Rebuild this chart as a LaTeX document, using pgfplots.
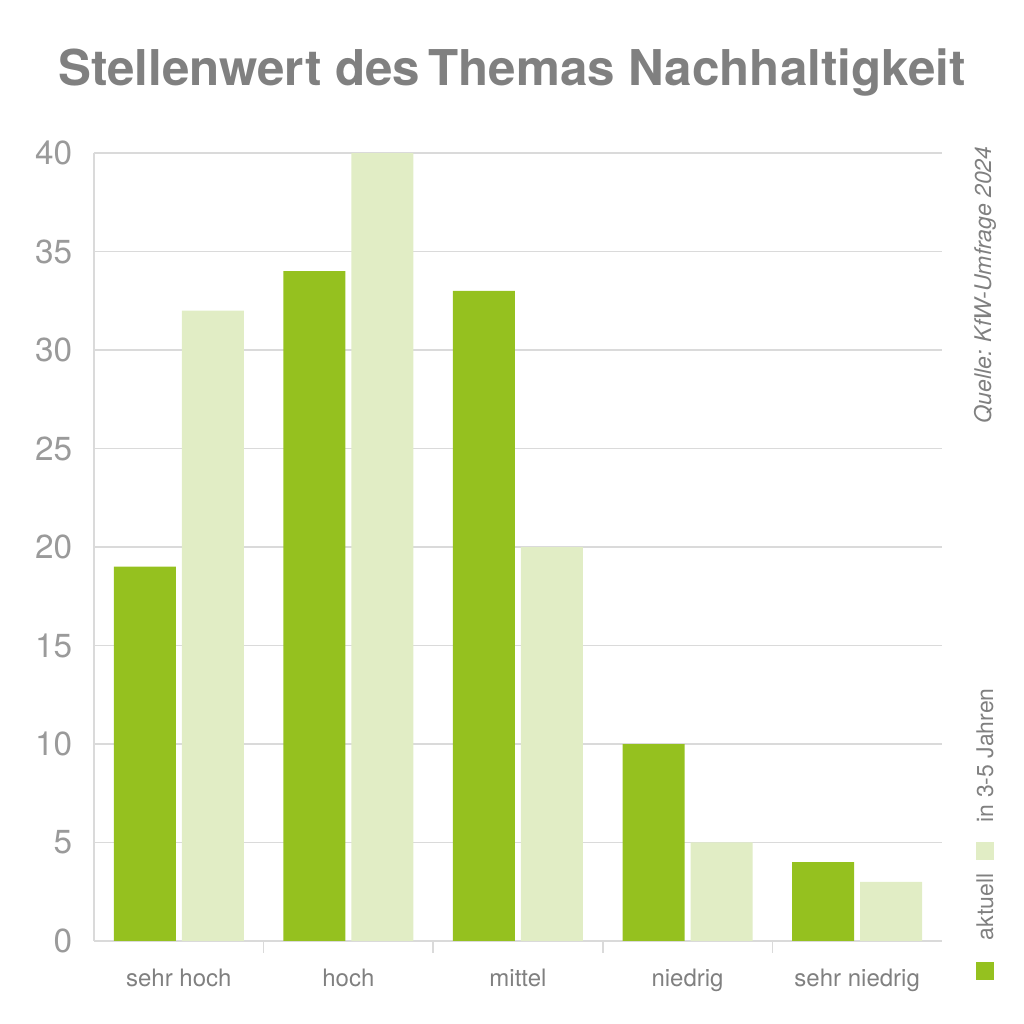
\documentclass[border=0pt]{standalone}
\usepackage{fontspec}
\setmainfont{TeX Gyre Heros}
\usepackage{pgfplots}
\pgfplotsset{compat=1.18}
\usetikzlibrary{calc}

\definecolor{kfwgreen}{HTML}{95C11F}
\definecolor{kfwlight}{HTML}{E1EDC5}
\definecolor{txtgray}{HTML}{808080}
\definecolor{ticgray}{HTML}{9A9A9A}
\definecolor{gridgray}{HTML}{DADADA}

\begin{document}
\begin{tikzpicture}
\begin{axis}[
  name=ax,
  scale only axis,
  width=254.4pt, height=236.4pt,
  ybar=1.8pt,
  bar width=18.6pt,
  xmin=-0.5, xmax=4.5,
  ymin=0, ymax=40,
  xtick=data,
  xticklabels={sehr hoch, hoch, mittel, niedrig, sehr niedrig},
  minor xtick={0.5,1.5,2.5,3.5},
  ytick={0,5,...,40},
  ymajorgrids=true,
  grid style={gridgray, line width=0.4pt},
  axis x line*=bottom,
  axis y line*=left,
  axis line style={gridgray, line width=0.5pt},
  major tick length=0pt,
  minor tick length=3.5pt,
  minor tick style={gridgray, line width=0.5pt},
  xticklabel style={font=\fontsize{7.2}{8}\selectfont, text=txtgray, yshift=-5pt},
  yticklabel style={font=\fontsize{10}{12}\selectfont, text=ticgray, xshift=-3pt},
  /pgf/number format/assume math mode=true,
  clip=false,
]
\addplot[fill=kfwgreen, draw=none] coordinates {
  (0,19) (1,34) (2,33) (3,10) (4,4)
};
\addplot[fill=kfwlight, draw=none] coordinates {
  (0,32) (1,40) (2,20) (3,5) (4,3)
};
\end{axis}
\begin{scope}[shift={($(ax.south west)+(-28.2pt,282.3pt)$)}, x=0.3pt, y=-0.3pt]
  \path[use as bounding box] (0,0) rectangle (1024,1024);
  \node[text=txtgray, font=\fontsize{14.8}{18}\selectfont\bfseries] at (512,72) {Stellenwert des\,Themas Nachhaltigkeit};
  \node[text=txtgray, font=\fontsize{6.9}{9}\selectfont\itshape, rotate=90] at (985,285) {Quelle: KfW-Umfrage 2024};
  \fill[kfwgreen] (976,962) rectangle (994,980);
  \node[text=txtgray, font=\fontsize{6.9}{9}\selectfont, rotate=90, anchor=west] at (985,952) {aktuell};
  \fill[kfwlight] (976,842) rectangle (994,860);
  \node[text=txtgray, font=\fontsize{6.9}{9}\selectfont, rotate=90, anchor=west] at (985,834) {in 3-5 Jahren};
\end{scope}
\end{tikzpicture}
\end{document}
